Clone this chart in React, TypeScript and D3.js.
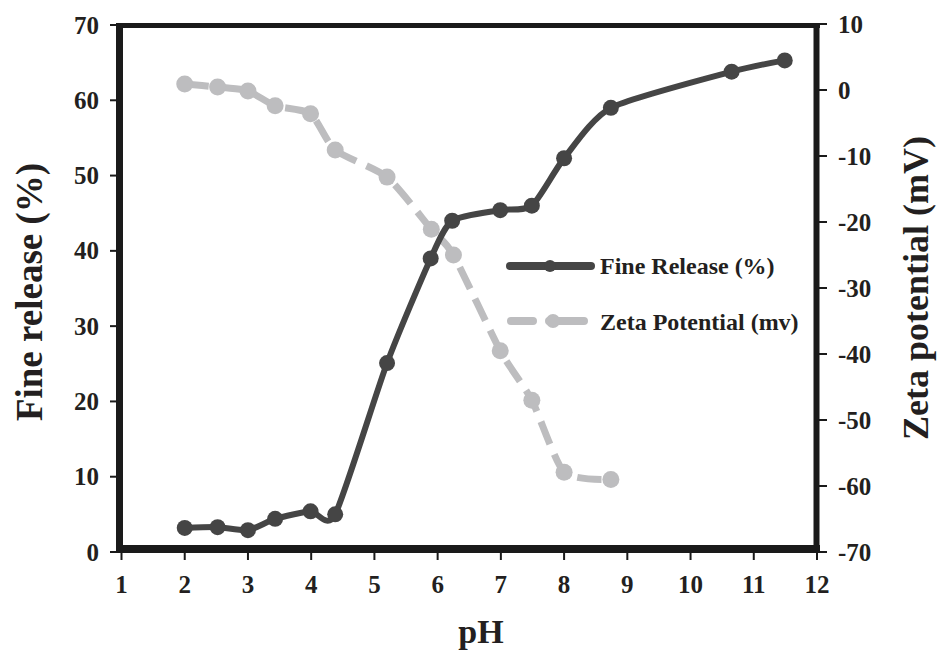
import { useRef, useEffect } from "react";
import * as d3 from "d3";

// pH values and readings taken from the figure
const phFine = [2, 2.52, 3, 3.43, 3.99, 4.38, 5.2, 5.89, 6.23, 6.99, 7.49, 8.0, 8.74, 10.65, 11.49];
const fineRelease = [3.2, 3.3, 2.9, 4.4, 5.4, 5.0, 25.1, 39.0, 44.0, 45.4, 46.0, 52.3, 59.0, 63.8, 65.3];

const phZeta = [2, 2.52, 3, 3.43, 3.99, 4.38, 5.2, 5.9, 6.25, 6.99, 7.49, 8.0, 8.74];
const zetaPotential = [0.9, 0.45, -0.15, -2.4, -3.6, -9.1, -13.2, -21.1, -25.0, -39.5, -47.0, -57.9, -59.0];

const xTicks = [1, 2, 3, 4, 5, 6, 7, 8, 9, 10, 11, 12];
const leftTicks = [0, 10, 20, 30, 40, 50, 60, 70];
const rightTicks = [10, 0, -10, -20, -30, -40, -50, -60, -70];

const seriesNames = ["Fine Release (%)", "Zeta Potential (mv)"];

const WIDTH = 938;
const HEIGHT = 651;
const FONT = "'Liberation Serif', 'Times New Roman', serif";
const TEXT = "#231f20";
const DARK = "#454545";
const GREY = "#bdbdbf";

const App = () => {
  const svgRef = useRef<SVGSVGElement>(null);

  useEffect(() => {
    document.body.style.margin = "0";
    const svg = d3.select(svgRef.current);
    svg.selectAll("*").remove();

    const x = d3.scaleLinear().domain([1, 12]).range([121.5, 817]);
    const yLeft = d3.scaleLinear().domain([0, 70]).range([552, 25]);
    const yRight = d3.scaleLinear().domain([-70, 10]).range([552, 24]);

    const label = (sel, size) =>
      sel
        .attr("font-family", FONT)
        .attr("font-weight", "bold")
        .attr("font-size", size)
        .attr("fill", TEXT);

    // frame
    const frame = svg.append("g").attr("stroke", "#1a1a1a").attr("fill", "none");
    frame.append("line").attr("x1", 116).attr("x2", 820).attr("y1", 25.5).attr("y2", 25.5).attr("stroke-width", 5);
    frame.append("line").attr("x1", 116).attr("x2", 820).attr("y1", 549).attr("y2", 549).attr("stroke-width", 8);
    frame.append("line").attr("x1", 119.5).attr("x2", 119.5).attr("y1", 23).attr("y2", 553).attr("stroke-width", 7);
    frame.append("line").attr("x1", 816.5).attr("x2", 816.5).attr("y1", 23).attr("y2", 553).attr("stroke-width", 6);

    // left ticks
    const lt = svg.append("g");
    leftTicks.forEach((v) => {
      lt.append("line")
        .attr("x1", 110).attr("x2", 117)
        .attr("y1", yLeft(v)).attr("y2", yLeft(v))
        .attr("stroke", "#1a1a1a").attr("stroke-width", 2);
      label(lt.append("text"), 25)
        .attr("x", 99).attr("y", yLeft(v) + 8.5)
        .attr("text-anchor", "end")
        .text(v);
    });

    // right ticks
    const rt = svg.append("g");
    rightTicks.forEach((v) => {
      rt.append("line")
        .attr("x1", 819).attr("x2", 827)
        .attr("y1", yRight(v)).attr("y2", yRight(v))
        .attr("stroke", "#1a1a1a").attr("stroke-width", 2);
      label(rt.append("text"), 25)
        .attr("x", 838).attr("y", yRight(v) + 8.5)
        .attr("text-anchor", "start")
        .text(v);
    });

    // bottom ticks
    const bt = svg.append("g");
    xTicks.forEach((v) => {
      bt.append("line")
        .attr("x1", x(v)).attr("x2", x(v))
        .attr("y1", 552).attr("y2", 560)
        .attr("stroke", "#1a1a1a").attr("stroke-width", 2);
      label(bt.append("text"), 25)
        .attr("x", x(v)).attr("y", 593)
        .attr("text-anchor", "middle")
        .text(v);
    });

    // axis titles
    label(svg.append("text"), 34)
      .attr("x", 481).attr("y", 643)
      .attr("text-anchor", "middle")
      .text("pH");
    label(svg.append("text"), 37)
      .attr("transform", "translate(42, 292) rotate(-90)")
      .attr("text-anchor", "middle")
      .text("Fine release (%)");
    label(svg.append("text"), 36)
      .attr("transform", "translate(928, 288) rotate(-90)")
      .attr("text-anchor", "middle")
      .text("Zeta potential (mV)");

    const curve = d3.curveCardinal.tension(0.35);

    // zeta potential series (dashed grey)
    const zeta = phZeta.map((p, i) => ({ p, v: zetaPotential[i] }));
    svg.append("path")
      .datum(zeta)
      .attr("fill", "none")
      .attr("stroke", GREY)
      .attr("stroke-width", 7)
      .attr("stroke-dasharray", "24,11")
      .attr("d", d3.line().curve(curve).x((d) => x(d.p)).y((d) => yRight(d.v)));
    svg.append("g")
      .selectAll("circle")
      .data(zeta)
      .join("circle")
      .attr("cx", (d) => x(d.p))
      .attr("cy", (d) => yRight(d.v))
      .attr("r", 8.5)
      .attr("fill", GREY);

    // fine release series (solid dark)
    const fine = phFine.map((p, i) => ({ p, v: fineRelease[i] }));
    svg.append("path")
      .datum(fine)
      .attr("fill", "none")
      .attr("stroke", DARK)
      .attr("stroke-width", 6)
      .attr("d", d3.line().curve(curve).x((d) => x(d.p)).y((d) => yLeft(d.v)));
    svg.append("g")
      .selectAll("circle")
      .data(fine)
      .join("circle")
      .attr("cx", (d) => x(d.p))
      .attr("cy", (d) => yLeft(d.v))
      .attr("r", 8)
      .attr("fill", DARK);

    // legend
    const lg = svg.append("g");
    lg.append("line")
      .attr("x1", 510).attr("x2", 591).attr("y1", 266).attr("y2", 266)
      .attr("stroke", DARK).attr("stroke-width", 8).attr("stroke-linecap", "round");
    lg.append("circle").attr("cx", 550).attr("cy", 266).attr("r", 6).attr("fill", DARK);
    label(lg.append("text"), 24).attr("x", 600).attr("y", 274).text(seriesNames[0]);

    lg.append("line")
      .attr("x1", 511).attr("x2", 584).attr("y1", 321).attr("y2", 321)
      .attr("stroke", GREY).attr("stroke-width", 8).attr("stroke-linecap", "round")
      .attr("stroke-dasharray", "22,16,40");
    lg.append("circle").attr("cx", 553).attr("cy", 321).attr("r", 7).attr("fill", GREY);
    label(lg.append("text"), 24).attr("x", 600).attr("y", 330).text(seriesNames[1]);
  }, []);

  return <svg ref={svgRef} width={WIDTH} height={HEIGHT} style={{ display: "block", background: "#fff" }}></svg>;
};

export default App;
